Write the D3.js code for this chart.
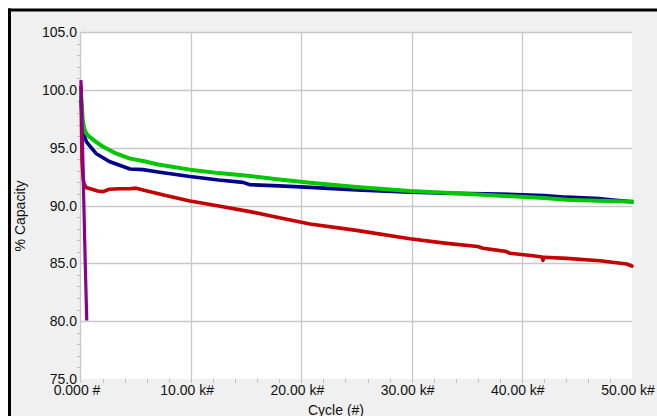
<!DOCTYPE html>
<html><head><meta charset="utf-8">
<script src="https://cdn.jsdelivr.net/npm/d3@7"></script>
<style>html,body{margin:0;padding:0;background:#fff;}svg{display:block;}text{font-family:"Liberation Sans",Arial,sans-serif;}</style>
</head><body>
<script>
// ---- data ----
const xTickValues = [0, 10000, 20000, 30000, 40000, 50000];
const xTickLabels = ["0.000 #", "10.00 k#", "20.00 k#", "30.00 k#", "40.00 k#", "50.00 k#"];
const yTickValues = [75, 80, 85, 90, 95, 100, 105];
const yTickLabels = ["75.0", "80.0", "85.0", "90.0", "95.0", "100.0", "105.0"];
const xTitle = "Cycle (#)";
const yTitle = "% Capacity";

const redCycles  = [0,60,91,200,272,454,1000,1515,2000,2568,3500,4446,5000,5626,7500,9891,12500,15335,18000,20780,25000,29853,33000,36000,36477,38020,38500,38927,41000,41850,41922,42000,44072,47094,49517,49970];
const redValues  = [100.2,96,93.9,92.3,91.9,91.55,91.4,91.25,91.2,91.4,91.45,91.45,91.5,91.35,90.9,90.39,89.95,89.47,88.95,88.4,87.85,87.13,86.75,86.45,86.3,86.1,86.05,85.87,85.65,85.55,85.25,85.52,85.43,85.23,84.94,84.77];

const navyCycles = [0,90,154,300,500,753,1361,2568,4446,5626,7000,9891,12500,14700,15335,18000,20780,25000,29853,34000,38020,42000,44072,47000,48274,49970];
const navyValues = [99.3,97.8,96.8,96.0,95.5,95.2,94.5,93.8,93.15,93.1,92.9,92.5,92.2,92.0,91.8,91.7,91.57,91.35,91.14,91.05,91.0,90.85,90.72,90.6,90.48,90.33];

const greenCycles = [0,90,154,300,500,753,1361,1969,3176,4446,5626,7000,9891,12500,15335,18000,20780,25000,29853,34000,38020,42000,44072,47000,49970];
const greenValues = [99.6,98.5,97.4,96.6,96.2,95.95,95.5,95.1,94.5,94.05,93.85,93.55,93.1,92.8,92.55,92.25,91.97,91.6,91.25,91.05,90.85,90.65,90.5,90.42,90.33];

const purpleCycles = [0,120,250,380,520];
const purpleValues = [100.7,96.0,90.5,85.2,80.2];

const seriesNames  = ["red","navy","green","purple"];
const seriesColors = ["#c40000","#00008c","#00c800","#8b008b"];

// ---- chart ----
const W = 657, H = 416;
const L = 81, R = 632, T = 32, B = 379;
const svg = d3.select("body").append("svg").attr("width", W).attr("height", H);

svg.append("rect").attr("x",0).attr("y",0).attr("width",W).attr("height",H).attr("fill","#ffffff");
svg.append("rect").attr("x",9).attr("y",10).attr("width",W-9).attr("height",H-10).attr("fill","#f0f0f0");
svg.append("line").attr("x1",9.5).attr("x2",9.5).attr("y1",8.5).attr("y2",H).attr("stroke","#000").attr("stroke-width",3);
svg.append("line").attr("x1",8).attr("x2",W).attr("y1",10).attr("y2",10).attr("stroke","#000").attr("stroke-width",3);

const x = d3.scaleLinear().domain([0,50000]).range([L,R]);
const y = d3.scaleLinear().domain([75,105]).range([B,T]);

svg.append("rect").attr("x",L).attr("y",T).attr("width",R-L).attr("height",B-T).attr("fill","#fff");

// gridlines
const grid = svg.append("g").attr("stroke","#c8c8c8").attr("stroke-width",1.3);
yTickValues.filter(v=>v>75).forEach(v=>{
  grid.append("line").attr("x1",L).attr("x2",R).attr("y1",Math.round(y(v))+0.5).attr("y2",Math.round(y(v))+0.5);
});
xTickValues.filter(v=>v>0 && v<50000).forEach(v=>{
  grid.append("line").attr("x1",Math.round(x(v))+0.5).attr("x2",Math.round(x(v))+0.5).attr("y1",T).attr("y2",B);
});
grid.append("line").attr("x1",L-0.5).attr("x2",L-0.5).attr("y1",T).attr("y2",B+4);

// minor ticks
const minor = svg.append("g").attr("stroke","#c0c0c0").attr("stroke-width",1);
d3.range(2000,50000,2000).forEach(v=>{
  const px = Math.round(x(v))+0.5;
  minor.append("line").attr("x1",px).attr("x2",px).attr("y1",B).attr("y2",B+4);
});
d3.range(76,105,1).filter(v=>v%5!==0).forEach(v=>{
  const py = Math.round(y(v))+0.5;
  minor.append("line").attr("x1",L-4).attr("x2",L).attr("y1",py).attr("y2",py);
});

// series
const clip = svg.append("clipPath").attr("id","pc").append("rect").attr("x",L-3).attr("y",T-5).attr("width",R-L+6).attr("height",B-T+5);
const line = d3.line().x(d=>x(d[0])).y(d=>y(d[1]));
const allSeries = [
  d3.zip(redCycles, redValues),
  d3.zip(navyCycles, navyValues),
  d3.zip(greenCycles, greenValues),
  d3.zip(purpleCycles, purpleValues)
];
const widths = [3.6,3.6,4,3.2];
const gS = svg.append("g").attr("clip-path","url(#pc)");
allSeries.forEach((s,i)=>{
  gS.append("path").attr("d", line(s)).attr("fill","none")
    .attr("stroke", seriesColors[i]).attr("stroke-width", widths[i])
    .attr("stroke-linejoin","round").attr("stroke-linecap","square");
});

// labels
const tx = svg.append("g").attr("font-size",14).attr("fill","#111");
yTickValues.forEach((v,i)=>{
  tx.append("text").attr("x",77).attr("y",y(v)).attr("dy","0.36em").attr("text-anchor","end").text(yTickLabels[i]);
});
xTickValues.forEach((v,i)=>{
  tx.append("text").attr("x",x(v)-4).attr("y",395).attr("text-anchor","middle").text(xTickLabels[i]);
});
tx.append("text").attr("x",336).attr("y",415).attr("text-anchor","middle").text(xTitle);
tx.append("text").attr("transform","translate(25,216) rotate(-90)").attr("text-anchor","middle").text(yTitle);
</script>
</body></html>
